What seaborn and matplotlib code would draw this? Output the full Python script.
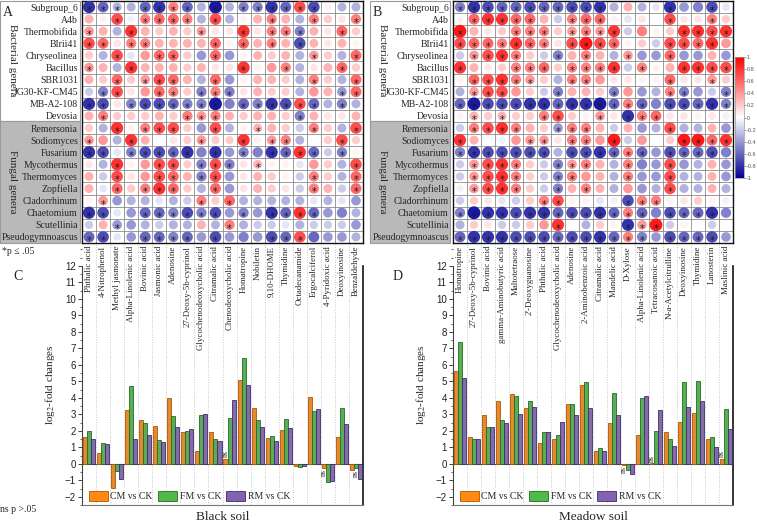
import numpy as np
import pandas as pd
import matplotlib
matplotlib.use('Agg')
import matplotlib.pyplot as plt
import seaborn as sns
from matplotlib.colors import LinearSegmentedColormap, Normalize
from matplotlib.patches import Rectangle, Patch
from matplotlib.ticker import MultipleLocator
import matplotlib.cm as mcm

sns.set_theme(style='white')
plt.rcParams['font.family'] = ['Liberation Serif', 'DejaVu Serif']
plt.rcParams['mathtext.fontset'] = 'stix'

# ---------------- data ----------------
genera = ['Subgroup_6', 'A4b', 'Thermobifida', 'BIrii41', 'Chryseolinea', 'Bacillus',
          'SBR1031', 'JG30-KF-CM45', 'MB-A2-108', 'Devosia',
          'Remersonia', 'Sodiomyces', 'Fusarium', 'Mycothermus', 'Thermomyces',
          'Zopfiella', 'Cladorrhinum', 'Chaetomium', 'Scutellinia', 'Pseudogymnoascus']

metab_C = ['Phthalic acid', '4-Nitrophenol', 'Methyl jasmonate', 'Alpha-Linolenic acid',
           'Bovinic acid', 'Jasmonic acid', 'Adenosine', '27-Deoxy-5b-cyprinol',
           'Glycochenodeoxycholic acid', 'Citramalic acid', 'Chenodeoxycholic acid',
           'Homatropine', 'Nobiletin', '9,10-DHOME', 'Thymidine', 'Octadecanamide',
           'Ergocalciferol', '4-Pyridoxic acid', 'Deoxyinosine', 'Benzaldehyde']
metab_D = ['Homatropine', '27-Deoxy-5b-cyprinol', 'Bovinic acid', 'gamma-Aminobutyric acid',
           'Maltotetraose', "2'-Deoxyguanosine", 'Phthalic acid', 'Glycochenodeoxycholic acid',
           'Adenosine', '2-Aminobenzoic acid', 'Citramalic acid', 'Mandelic acid', 'D-Xylose',
           'Alpha-Linolenic acid', 'Tetracosanoic acid', 'N-a-Acetylcitrulline', 'Deoxyinosine',
           'Thymidine', 'Lanosterin', 'Maslinic acid']

groups = ['CM vs CK', 'FM vs CK', 'RM vs CK']

cm_C = [1.65, 0.65, -1.45, 3.25, 2.65, 2.3, 4.0, 1.95, 0.8, 1.9, 0.3, 5.1, 3.35, 1.55, 2.05, -0.15, 4.05, -0.25, 1.6, -0.4]
fm_C = [2.0, 1.25, -0.45, 4.7, 2.5, 1.45, 2.9, 2.0, 2.95, 1.5, 2.8, 6.4, 2.65, 1.7, 2.7, -0.2, 3.2, -1.1, 3.4, -0.28]
rm_C = [1.5, 1.2, -0.9, 1.5, 1.75, 1.3, 2.25, 2.1, 3.0, 1.35, 3.85, 4.75, 2.2, 1.4, 2.15, -0.15, 3.3, -1.05, 2.4, -0.9]

cm_D = [5.65, 1.6, 2.95, 3.8, 4.2, 3.4, 1.25, 1.5, 3.6, 4.75, 0.8, 2.5, -0.05, 1.75, 0.05, 1.9, 2.55, 3.1, 1.5, 0.3]
fm_D = [7.4, 1.5, 2.25, 2.65, 4.1, 3.8, 1.95, 1.75, 3.6, 4.95, 0.95, 4.3, -0.35, 4.0, 2.0, 1.5, 4.95, 5.0, 1.6, 3.3]
rm_D = [5.2, 1.5, 2.2, 2.45, 3.0, 3.45, 1.95, 2.55, 2.95, 3.4, 0.8, 2.95, -0.65, 4.1, 3.25, 1.05, 3.45, 3.8, 1.0, 2.1]

# (category index, series index) of non-significant bars
ns_C = [(10, 0), (17, 0), (19, 1)]
ns_D = [(12, 0), (14, 0), (19, 0)]

corr_A = [
    [-0.8, -0.6, -0.3, -0.3, -0.6, -0.8, 0.5, -0.6, -0.3, -0.9, -0.3, -0.5, -0.5, -0.8, -0.6, 0.7, -0.7, 0.05, -0.3, -0.3],
    [0.3, 0.05, 0.7, -0.05, 0.5, 0.6, 0.6, 0.5, -0.3, 0.7, -0.3, 0.05, 0.3, 0.5, 0.3, -0.3, 0.5, 0.2, 0.1, 0.5],
    [0.4, 0.3, -0.3, 0.8, 0.3, 0.2, 0.3, 0.2, 0.4, 0.1, 0.1, 0.8, 0.1, 0.5, 0.5, -0.5, 0.3, 0.1, 0.6, 0.2],
    [0.7, 0.6, 0.1, 0.5, 0.5, 0.3, 0.3, 0.3, 0.3, 0.6, 0.05, 0.6, 0.3, 0.5, 0.3, -0.7, 0.3, 0.1, 0.3, 0.05],
    [0.2, -0.3, 0.7, -0.1, 0.4, 0.6, 0.6, 0.2, -0.4, 0.6, -0.4, 0.05, 0.3, 0.2, 0.3, -0.3, 0.4, 0.2, -0.3, 0.6],
    [0.4, 0.3, -0.3, 0.8, 0.3, 0.3, 0.3, 0.2, 0.3, 0.1, 0.1, 0.8, 0.05, 0.4, 0.5, -0.3, 0.1, 0.3, 0.6, 0.2],
    [0.3, 0.2, 0.6, 0.2, 0.4, 0.7, 0.6, 0.3, -0.3, 0.6, -0.4, 0.05, 0.3, 0.3, 0.2, -0.3, 0.5, 0.2, -0.3, 0.6],
    [-0.2, -0.5, 0.7, 0.1, 0.4, 0.6, 0.5, 0.2, -0.5, 0.5, -0.5, 0.1, 0.3, 0.2, 0.2, -0.3, 0.4, 0.3, -0.4, 0.6],
    [-0.8, -0.7, 0.1, -0.5, -0.7, -0.7, -0.6, -0.5, -0.5, -0.9, -0.5, -0.6, -0.5, -0.8, -0.7, 0.7, -0.6, -0.3, -0.5, -0.3],
    [0.3, 0.5, 0.2, 0.2, 0.2, 0.3, 0.2, 0.5, 0.4, 0.5, 0.3, 0.2, 0.3, 0.3, 0.2, -0.5, 0.3, 0.1, 0.1, 0.3],
    [0.2, -0.3, 0.8, 0.05, 0.5, 0.7, 0.7, 0.2, -0.4, 0.7, -0.3, 0.05, 0.3, 0.3, 0.2, -0.2, 0.5, 0.2, -0.3, 0.7],
    [0.4, 0.4, -0.3, 0.8, 0.3, 0.0, 0.1, 0.2, 0.4, 0.2, 0.2, 0.8, 0.05, 0.4, 0.5, -0.3, 0.0, 0.2, 0.7, 0.2],
    [-0.8, -0.7, -0.1, -0.5, -0.7, -0.7, -0.6, -0.8, -0.5, -0.8, -0.4, -0.5, -0.5, -0.8, -0.6, 0.8, -0.6, -0.2, -0.5, 0.05],
    [0.1, -0.3, 0.8, 0.05, 0.4, 0.7, 0.7, 0.2, -0.5, 0.7, -0.5, 0.1, 0.3, 0.05, 0.05, -0.1, 0.4, 0.2, -0.3, 0.7],
    [0.3, -0.2, 0.7, 0.1, 0.4, 0.7, 0.6, 0.3, -0.5, 0.7, -0.4, 0.1, 0.3, 0.2, 0.05, -0.2, 0.5, 0.2, -0.3, 0.6],
    [0.3, -0.1, 0.6, 0.2, 0.5, 0.8, 0.6, 0.2, -0.3, 0.6, -0.4, 0.1, 0.3, 0.2, 0.1, -0.2, 0.5, 0.3, -0.2, 0.6],
    [0.05, 0.4, -0.4, -0.3, -0.3, -0.1, -0.3, -0.2, 0.5, 0.2, 0.6, -0.3, -0.3, -0.3, -0.3, -0.3, -0.1, -0.3, -0.1, -0.4],
    [-0.8, -0.7, -0.1, -0.4, -0.6, -0.6, -0.5, -0.7, -0.5, -0.7, -0.4, -0.5, -0.4, -0.8, -0.6, 0.8, -0.6, -0.4, -0.5, -0.3],
    [-0.2, 0.3, -0.4, -0.4, -0.3, -0.2, -0.3, -0.3, 0.3, -0.3, 0.5, -0.3, -0.2, -0.2, -0.1, -0.3, -0.2, -0.2, -0.2, -0.4],
    [-0.6, -0.7, -0.1, -0.4, -0.6, -0.6, -0.5, -0.6, -0.4, -0.7, -0.4, -0.5, -0.4, -0.7, -0.6, 0.7, -0.6, -0.4, -0.4, -0.3],
]
sig_A = [
    "1110 1111 0101 1111 1000", "0010 1111 0100 0100 1001", "1001 0000 1001 0111 0010",
    "1101 1000 0101 0101 0000", "0010 0110 0100 0000 1001", "1001 0000 0001 0010 0010",
    "0010 1110 0100 0000 1001", "0110 0110 1110 0000 0011", "1101 1111 1101 1111 1010",
    "0100 0001 1100 0001 0000", "0010 1110 0100 1000 1001", "1001 0000 1001 0110 0010",
    "1101 1111 0101 0111 1010", "0010 0110 1110 1000 0001", "0010 0110 1100 0000 1001",
    "0010 1110 0100 0000 1001", "0100 0000 1010 0000 0000", "1100 1111 1101 0111 1000",
    "0010 0000 0010 0000 0000", "1100 1111 0100 0111 0000",
]

corr_B = [
    [-0.5, -0.8, -0.7, -0.6, -0.6, -0.7, -0.6, -0.6, -0.7, -0.7, -0.8, -0.3, 0.3, -0.3, -0.1, -0.8, -0.4, -0.5, -0.7, -0.1],
    [0.05, 0.6, 0.8, 0.8, 0.6, 0.6, 0.3, -0.2, 0.5, 0.6, 0.6, 0.05, -0.1, 0.1, 0.0, 0.7, 0.1, 0.1, 0.5, 0.2],
    [0.9, 0.3, 0.1, 0.2, 0.5, 0.5, 0.5, 0.2, 0.4, 0.5, 0.4, 0.8, -0.2, 0.5, 0.05, 0.2, 0.8, 0.8, 0.7, 0.8],
    [0.7, 0.6, 0.6, 0.5, 0.8, 0.6, 0.5, 0.1, 0.7, 0.9, 0.7, 0.6, 0.05, 0.2, -0.2, 0.7, 0.7, 0.6, 0.8, 0.4],
    [-0.2, 0.4, 0.7, 0.8, 0.5, 0.2, -0.2, -0.5, 0.3, 0.5, 0.3, -0.3, 0.4, -0.4, -0.4, 0.6, -0.4, -0.4, 0.3, -0.4],
    [0.8, 0.3, 0.1, 0.2, 0.5, 0.5, 0.6, 0.2, 0.5, 0.5, 0.5, 0.8, -0.2, 0.5, 0.05, 0.3, 0.8, 0.8, 0.7, 0.7],
    [0.05, 0.6, 0.7, 0.8, 0.5, 0.4, 0.2, -0.3, 0.5, 0.5, 0.4, 0.1, 0.1, 0.05, 0.05, 0.6, 0.1, 0.1, 0.4, 0.2],
    [-0.3, 0.4, 0.7, 0.7, 0.4, 0.2, -0.2, -0.5, 0.3, 0.3, 0.2, -0.5, 0.4, -0.4, -0.3, 0.5, -0.5, -0.4, -0.2, -0.5],
    [-0.6, -0.9, -0.7, -0.7, -0.7, -0.8, -0.8, -0.6, -0.8, -0.8, -0.9, -0.6, 0.5, -0.6, -0.5, -0.7, -0.7, -0.6, -0.8, -0.5],
    [0.05, 0.3, 0.2, 0.3, 0.2, 0.2, 0.5, 0.7, 0.2, 0.05, 0.4, 0.1, -0.8, 0.5, 0.6, 0.1, 0.1, 0.05, 0.1, -0.05],
    [-0.2, 0.5, 0.7, 0.8, 0.5, 0.3, 0.2, -0.4, 0.5, 0.5, 0.3, -0.2, 0.3, -0.4, -0.3, 0.7, -0.3, -0.3, 0.3, -0.4],
    [0.8, 0.3, 0.0, -0.05, 0.4, 0.4, 0.4, 0.1, 0.5, 0.5, 0.4, 0.9, -0.2, 0.4, 0.0, 0.2, 0.9, 0.9, 0.6, 0.8],
    [-0.5, -0.8, -0.7, -0.7, -0.7, -0.7, -0.7, -0.3, -0.7, -0.7, -0.8, -0.6, 0.5, -0.6, -0.4, -0.7, -0.6, -0.6, -0.7, -0.5],
    [-0.2, 0.4, 0.7, 0.8, 0.5, 0.2, -0.2, -0.5, 0.4, 0.5, 0.3, -0.3, 0.5, -0.5, -0.4, 0.7, -0.4, -0.3, 0.3, -0.4],
    [-0.2, 0.4, 0.7, 0.8, 0.5, 0.2, -0.2, -0.5, 0.5, 0.4, 0.3, -0.3, 0.5, -0.4, -0.4, 0.7, -0.3, -0.3, 0.3, -0.4],
    [-0.05, 0.4, 0.7, 0.8, 0.5, 0.2, -0.2, -0.5, 0.3, 0.5, 0.3, -0.3, 0.4, -0.4, -0.3, 0.7, -0.3, -0.3, 0.3, -0.3],
    [-0.2, 0.2, 0.1, -0.1, -0.2, 0.2, 0.5, 0.7, 0.05, 0.05, -0.1, -0.05, -0.7, 0.5, 0.5, 0.05, 0.1, 0.2, 0.05, -0.05],
    [-0.5, -0.9, -0.8, -0.8, -0.7, -0.8, -0.8, -0.6, -0.7, -0.7, -0.8, -0.6, 0.5, -0.6, -0.5, -0.7, -0.6, -0.6, -0.8, -0.5],
    [-0.3, 0.2, 0.1, -0.2, -0.2, 0.2, 0.4, 0.8, 0.0, -0.3, 0.2, 0.05, -0.8, 0.4, 0.9, -0.2, 0.05, 0.0, -0.2, 0.0],
    [-0.6, -0.8, -0.8, -0.8, -0.7, -0.7, -0.7, -0.6, -0.7, -0.7, -0.8, -0.6, 0.5, -0.5, -0.4, -0.7, -0.6, -0.6, -0.7, -0.4],
]
sig_B = [
    "1111 1111 1110 0001 0010", "0111 1100 1110 0001 0010", "1000 1110 1111 0000 1111",
    "1111 1110 1111 0001 1110", "0111 1001 0100 1001 0000", "1000 1110 1111 0100 1111",
    "0111 1100 1100 0001 0010", "0111 0001 0001 0001 1001", "1111 1111 1111 1101 1111",
    "0101 0011 0010 1110 0000", "0111 1001 1100 0001 0000", "1000 0110 1101 0000 1111",
    "1111 1110 1111 1101 1110", "0111 1001 1100 1001 0000", "0111 1001 1000 1001 0000",
    "0111 1001 0100 0001 0000", "0000 0011 0000 1110 0000", "1111 1111 1111 1101 1110",
    "0000 0001 0000 1110 0000", "1111 1111 1111 1101 1110",
]

# ---------------- style ----------------
W, H = 757, 523
cmap = LinearSegmentedColormap.from_list('br', ['#000096', '#ffffff', '#ff0000'])
fill_colors = ['#ff8a12', '#4fb94a', '#8163b0']
edge_colors = ['#b35400', '#1f6e1f', '#3f2d6e']


def fr(x0, y0, x1, y1):
    """pixel box (top-left origin) -> figure fraction rect"""
    return [x0 / W, 1 - y1 / H, (x1 - x0) / W, (y1 - y0) / H]


fig = plt.figure(figsize=(W / 100, H / 100), dpi=100)

axA = fig.add_axes(fr(82, 1, 363, 243))
axB = fig.add_axes(fr(453, 1, 733, 243))
cax = fig.add_axes(fr(735, 57, 744, 178))
axC = fig.add_axes(fr(82, 243, 363, 505))
axD = fig.add_axes(fr(453, 243, 733, 505))

d_min, d_max = 7.0, 13.5
a_min, a_max = (0.72 * d_min) ** 2, (0.72 * d_max) ** 2


def draw_heat(ax, corr, sig, xlabels):
    arr = np.array(corr, dtype=float)
    rows, cols = np.indices(arr.shape)
    df = pd.DataFrame({'col': cols.ravel(), 'row': rows.ravel(), 'r': arr.ravel()})
    df['area'] = (0.72 * (d_min + (d_max - d_min) * df['r'].abs())) ** 2
    sns.scatterplot(data=df, x='col', y='row', hue='r', palette=cmap, hue_norm=(-1, 1),
                    size='area', sizes=(a_min, a_max), size_norm=(a_min, a_max),
                    linewidth=0, edgecolor='none', legend=False, ax=ax, zorder=3)
    for i, s in enumerate(sig):
        s = s.replace(' ', '')
        for j, ch in enumerate(s):
            if ch == '1':
                ax.text(j, i + 0.32, '*', ha='center', va='center', fontsize=7,
                        color='#1a1a1a', zorder=4, family='DejaVu Sans')
    ax.set_xlim(-0.5, 19.5)
    ax.set_ylim(19.5, -0.5)
    ax.set_xticks(np.arange(20))
    ax.set_xticklabels(xlabels, rotation=90, fontsize=6.4)
    ax.set_yticks(np.arange(20))
    ax.set_yticklabels(genera, fontsize=7)
    ax.set_xticks(np.arange(-0.5, 20, 1), minor=True)
    ax.set_yticks(np.arange(-0.5, 20, 1), minor=True)
    ax.grid(True, which='minor', color='#8a8a8a', lw=0.6)
    ax.grid(False, which='major')
    ax.set_axisbelow(True)
    ax.tick_params(which='both', length=0)
    ax.tick_params(axis='y', pad=3)
    ax.tick_params(axis='x', pad=2)
    ax.set_xlabel('')
    ax.set_ylabel('')
    for sp in ax.spines.values():
        sp.set_color('#111111')
        sp.set_linewidth(1.0)


draw_heat(axA, corr_A, sig_A, metab_C)
draw_heat(axB, corr_B, sig_B, metab_D)

# colorbar
sm = mcm.ScalarMappable(norm=Normalize(-1, 1), cmap=cmap)
cb = fig.colorbar(sm, cax=cax, ticks=np.round(np.arange(-1, 1.01, 0.2), 1))
cb.ax.set_yticklabels(['-1', '-0.8', '-0.6', '-0.4', '-0.2', '0', '0.2', '0.4', '0.6', '0.8', '1'])
cb.ax.tick_params(labelsize=4, length=1.2, width=0.4, colors='#555555', pad=0.5)
for t in cb.ax.get_yticklabels():
    t.set_family('Liberation Sans')
cb.outline.set_edgecolor('#999999')
cb.outline.set_linewidth(0.5)

# label boxes
for x0 in (0, 370):
    fig.add_artist(Rectangle((x0 / W, 1 - 121 / H), 80 / W, 120 / H, transform=fig.transFigure,
                             facecolor='white', edgecolor='#9a9a9a', lw=0.8, zorder=-1))
    fig.add_artist(Rectangle((x0 / W, 1 - 243 / H), 80 / W, 122 / H, transform=fig.transFigure,
                             facecolor='#b9b9b9', edgecolor='#9a9a9a', lw=0.8, zorder=-1))
    fig.text((x0 + 12) / W, 1 - 60 / H, 'Bacterial genera', rotation=-90, ha='center', va='center', fontsize=8)
    fig.text((x0 + 12) / W, 1 - 182 / H, 'Fungal genera', rotation=-90, ha='center', va='center', fontsize=8)

fig.text(8 / W, 1 - 12 / H, 'A', ha='center', va='center', fontsize=10)
fig.text(377 / W, 1 - 12 / H, 'B', ha='center', va='center', fontsize=10)
fig.text(18 / W, 1 - 276 / H, 'C', ha='center', va='center', fontsize=10)
fig.text(398 / W, 1 - 276 / H, 'D', ha='center', va='center', fontsize=10)
fig.text(2 / W, 1 - 252 / H, '*p \u2264 .05', ha='left', va='center', fontsize=7)
fig.text(0 / W, 1 - 510 / H, 'ns p >.05', ha='left', va='center', fontsize=7)


def draw_bars(ax, metab, cmv, fmv, rmv, ns_list, xlabel):
    df = pd.DataFrame({'metabolite': list(metab) * 3,
                       'comparison': np.repeat(groups, len(metab)),
                       'value': list(cmv) + list(fmv) + list(rmv)})
    sns.barplot(data=df, x='metabolite', y='value', hue='comparison', order=metab,
                hue_order=groups, palette=fill_colors, width=0.86, linewidth=0.6,
                errorbar=None, legend=False, ax=ax, zorder=3)
    for cont, ec in zip(ax.containers, edge_colors):
        for p in cont:
            p.set_edgecolor(ec)
    for k, s in ns_list:
        bar = ax.containers[s][k]
        x = bar.get_x() + bar.get_width() / 2
        h = bar.get_height()
        if h >= 0:
            ax.text(x, h + 0.08, 'ns', rotation=90, ha='center', va='bottom', fontsize=5.5, zorder=5)
        else:
            ax.text(x, h - 0.08, 'ns', rotation=90, ha='center', va='top', fontsize=5.5, zorder=5)
    ax.axhline(0, color='#555555', lw=0.8, zorder=2)
    ax.set_xlim(-0.5, 19.5)
    ax.set_ylim(-2.5, 13.38)
    ax.patch.set_visible(False)
    ax.set_yticks(np.arange(-2, 13, 1))
    ax.yaxis.set_minor_locator(MultipleLocator(0.5))
    ax.tick_params(axis='y', which='major', left=True, direction='out', length=3, width=0.6,
                   labelsize=7, pad=1.5, colors='#222222')
    ax.tick_params(axis='y', which='minor', left=True, direction='out', length=1.5, width=0.5)
    for t in ax.get_yticklabels():
        t.set_family('Liberation Sans')
    ax.set_xticks(np.arange(20))
    ax.set_xticklabels([])
    ax.set_xticks(np.arange(0.5, 19.5, 1), minor=True)
    ax.tick_params(axis='x', which='both', length=0, bottom=False)
    ax.grid(True, which='minor', axis='x', linestyle=(0, (1, 2)), color='#b5b5b5', lw=0.6)
    ax.grid(False, which='major')
    ax.set_axisbelow(True)
    ax.spines['top'].set_visible(False)
    ax.spines['left'].set_bounds(-2.5, 12)
    ax.spines['right'].set_bounds(-2.5, 12)
    ax.spines['left'].set_color('#444444')
    ax.spines['left'].set_linewidth(0.8)
    ax.spines['right'].set_color('#111111')
    ax.spines['right'].set_linewidth(1.2)
    ax.spines['bottom'].set_color('#777777')
    ax.spines['bottom'].set_linewidth(0.8)
    ax.set_ylabel('')
    ax.set_xlabel(xlabel, fontsize=9.5, labelpad=1)
    ax.text(-0.115, 0.458, 'log$_2$-fold changes', rotation=90, ha='center', va='center',
            fontsize=8, transform=ax.transAxes)
    handles = [Patch(facecolor=fc, edgecolor=ec, lw=0.6) for fc, ec in zip(fill_colors, edge_colors)]
    ax.legend(handles, groups, loc='lower left', bbox_to_anchor=(0.02, 0.01), ncol=3,
              frameon=False, fontsize=7, handlelength=1.95, handleheight=1.1,
              handletextpad=0.3, columnspacing=0.5, borderaxespad=0, borderpad=0.1)


draw_bars(axC, metab_C, cm_C, fm_C, rm_C, ns_C, 'Black soil')
draw_bars(axD, metab_D, cm_D, fm_D, rm_D, ns_D, 'Meadow soil')

fig.savefig('out.png', dpi=100)
